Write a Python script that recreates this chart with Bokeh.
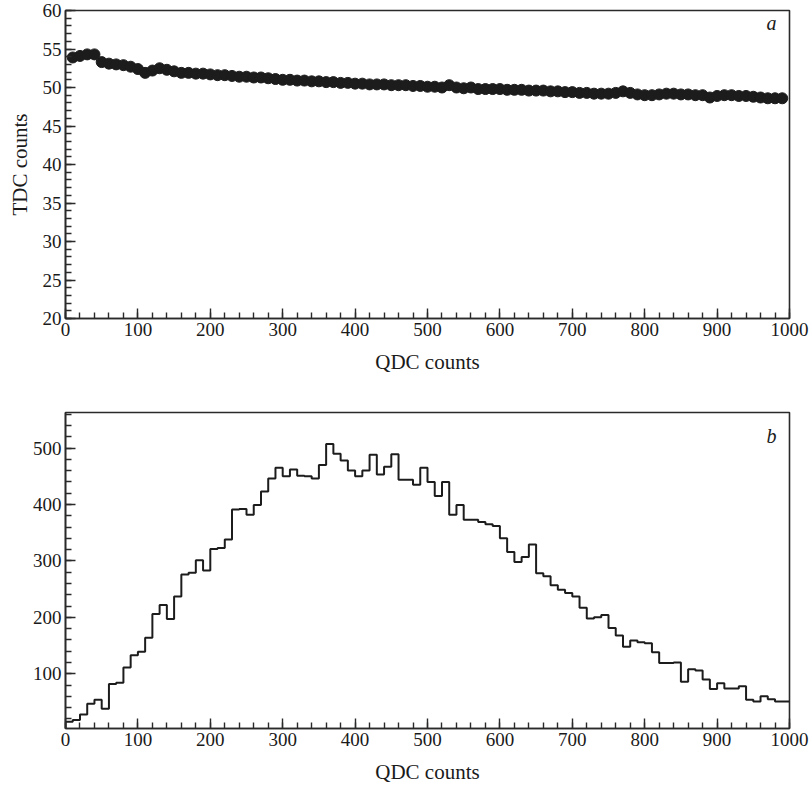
from bokeh.plotting import figure
from bokeh.layouts import column
from bokeh.models import Range1d, FixedTicker, Label
from bokeh.embed import file_html
from bokeh.resources import INLINE

# ---------------- data ----------------
# panel a: mean TDC counts versus QDC counts
qdc_points = [10, 20, 30, 40, 50, 60, 70, 80, 90, 100,
              110, 120, 130, 140, 150, 160, 170, 180, 190, 200,
              210, 220, 230, 240, 250, 260, 270, 280, 290, 300,
              310, 320, 330, 340, 350, 360, 370, 380, 390, 400,
              410, 420, 430, 440, 450, 460, 470, 480, 490, 500,
              510, 520, 530, 540, 550, 560, 570, 580, 590, 600,
              610, 620, 630, 640, 650, 660, 670, 680, 690, 700,
              710, 720, 730, 740, 750, 760, 770, 780, 790, 800,
              810, 820, 830, 840, 850, 860, 870, 880, 890, 900,
              910, 920, 930, 940, 950, 960, 970, 980, 990]
tdc_mean = [53.9, 54.1, 54.3, 54.3, 53.3, 53.1, 53.0, 52.9, 52.7, 52.4,
            51.9, 52.2, 52.5, 52.3, 52.1, 51.9, 51.9, 51.8, 51.8, 51.7,
            51.6, 51.6, 51.5, 51.4, 51.4, 51.3, 51.3, 51.2, 51.1, 51.0,
            51.0, 50.9, 50.9, 50.8, 50.8, 50.7, 50.7, 50.6, 50.6, 50.5,
            50.5, 50.4, 50.4, 50.4, 50.3, 50.3, 50.3, 50.2, 50.2, 50.1,
            50.1, 50.0, 50.3, 50.0, 49.9, 50.0, 49.8, 49.8, 49.8, 49.8,
            49.7, 49.7, 49.7, 49.6, 49.6, 49.6, 49.5, 49.5, 49.4, 49.4,
            49.3, 49.3, 49.2, 49.2, 49.2, 49.3, 49.5, 49.3, 49.1, 49.0,
            49.0, 49.1, 49.2, 49.2, 49.1, 49.1, 49.0, 49.0, 48.7, 48.9,
            49.0, 49.0, 48.9, 48.9, 48.8, 48.7, 48.6, 48.6, 48.6]

# panel b: QDC spectrum, 100 bins of width 10
bin_width = 10
qdc_hist = [15, 18, 28, 47, 54, 38, 82, 84, 111, 133,
            139, 164, 206, 222, 197, 237, 276, 279, 301, 283,
            321, 323, 338, 391, 392, 382, 399, 423, 446, 465,
            450, 462, 451, 450, 446, 470, 507, 490, 478, 460,
            450, 460, 488, 453, 467, 489, 444, 444, 435, 465,
            440, 415, 440, 382, 399, 373, 373, 369, 365, 362,
            340, 316, 298, 307, 329, 278, 273, 257, 249, 243,
            237, 217, 198, 200, 204, 181, 168, 148, 159, 156,
            154, 138, 119, 119, 120, 86, 108, 106, 90, 73,
            83, 74, 74, 78, 54, 51, 60, 55, 51, 51]

x_major = [0, 100, 200, 300, 400, 500, 600, 700, 800, 900, 1000]
x_minor = list(range(0, 1001, 20))
ya_major = [20, 25, 30, 35, 40, 45, 50, 55, 60]
ya_minor = list(range(20, 61, 1))
yb_major = [100, 200, 300, 400, 500]
yb_minor = list(range(0, 561, 20))

FONT = "Liberation Serif"
DARK = "#2a2a2a"


def style(p):
    p.outline_line_color = DARK
    p.outline_line_width = 1.6
    p.xgrid.visible = False
    p.ygrid.visible = False
    for ax in (p.xaxis[0], p.yaxis[0]):
        ax.axis_line_color = DARK
        ax.axis_line_width = 1.6
        ax.major_tick_line_color = DARK
        ax.minor_tick_line_color = DARK
        ax.major_tick_line_width = 1.4
        ax.minor_tick_line_width = 1.4
        ax.major_tick_in = 10
        ax.major_tick_out = 0
        ax.minor_tick_in = 6
        ax.minor_tick_out = 0
        ax.major_label_text_font = FONT
        ax.major_label_text_font_size = "19px"
        ax.major_label_text_color = "#1a1a1a"
        ax.axis_label_text_font = FONT
        ax.axis_label_text_font_size = "21px"
        ax.axis_label_text_font_style = "normal"
        ax.axis_label_text_color = "#1a1a1a"
        ax.major_label_standoff = 4
    p.xaxis[0].axis_label_standoff = 11
    p.yaxis[0].axis_label_standoff = 8


# ---------------- panel a ----------------
pa = figure(width=810, height=395, output_backend="svg", toolbar_location=None,
            x_range=Range1d(0, 1000), y_range=Range1d(20, 60),
            min_border_left=65, min_border_right=21, min_border_top=10,
            min_border_bottom=77, background_fill_color="white")
style(pa)
pa.xaxis[0].ticker = FixedTicker(ticks=x_major, minor_ticks=x_minor)
pa.yaxis[0].ticker = FixedTicker(ticks=ya_major, minor_ticks=ya_minor)
pa.xaxis[0].axis_label = "QDC counts"
pa.yaxis[0].axis_label = "TDC counts"
pa.scatter(qdc_points, tdc_mean, size=11, marker="circle",
           fill_color="#1c1c1c", line_color="#1c1c1c", line_width=1)
pa.add_layout(Label(x=975, y=58.4, text="a", text_font=FONT,
                    text_font_style="italic", text_font_size="20px",
                    text_align="center", text_baseline="middle",
                    text_color="#1a1a1a"))

# ---------------- panel b ----------------
edges = [i * bin_width for i in range(len(qdc_hist) + 1)]
step_y = qdc_hist + [qdc_hist[-1]]

pb = figure(width=810, height=393, output_backend="svg", toolbar_location=None,
            x_range=Range1d(0, 1000), y_range=Range1d(3, 563),
            min_border_left=65, min_border_right=21, min_border_top=17,
            min_border_bottom=60, background_fill_color="white")
style(pb)
pb.xaxis[0].ticker = FixedTicker(ticks=x_major, minor_ticks=x_minor)
pb.yaxis[0].ticker = FixedTicker(ticks=yb_major, minor_ticks=yb_minor)
pb.xaxis[0].axis_label = "QDC counts"
pb.step(edges, step_y, mode="after", line_color="#1c1c1c", line_width=2)
pb.segment(x0=[edges[0]], y0=[3], x1=[edges[0]], y1=[qdc_hist[0]],
           line_color="#1c1c1c", line_width=2)
pb.add_layout(Label(x=975, y=522, text="b", text_font=FONT,
                    text_font_style="italic", text_font_size="20px",
                    text_align="center", text_baseline="middle",
                    text_color="#1a1a1a"))

layout = column(pa, pb, spacing=0)
open("out.html", "w").write(file_html(layout, INLINE))
